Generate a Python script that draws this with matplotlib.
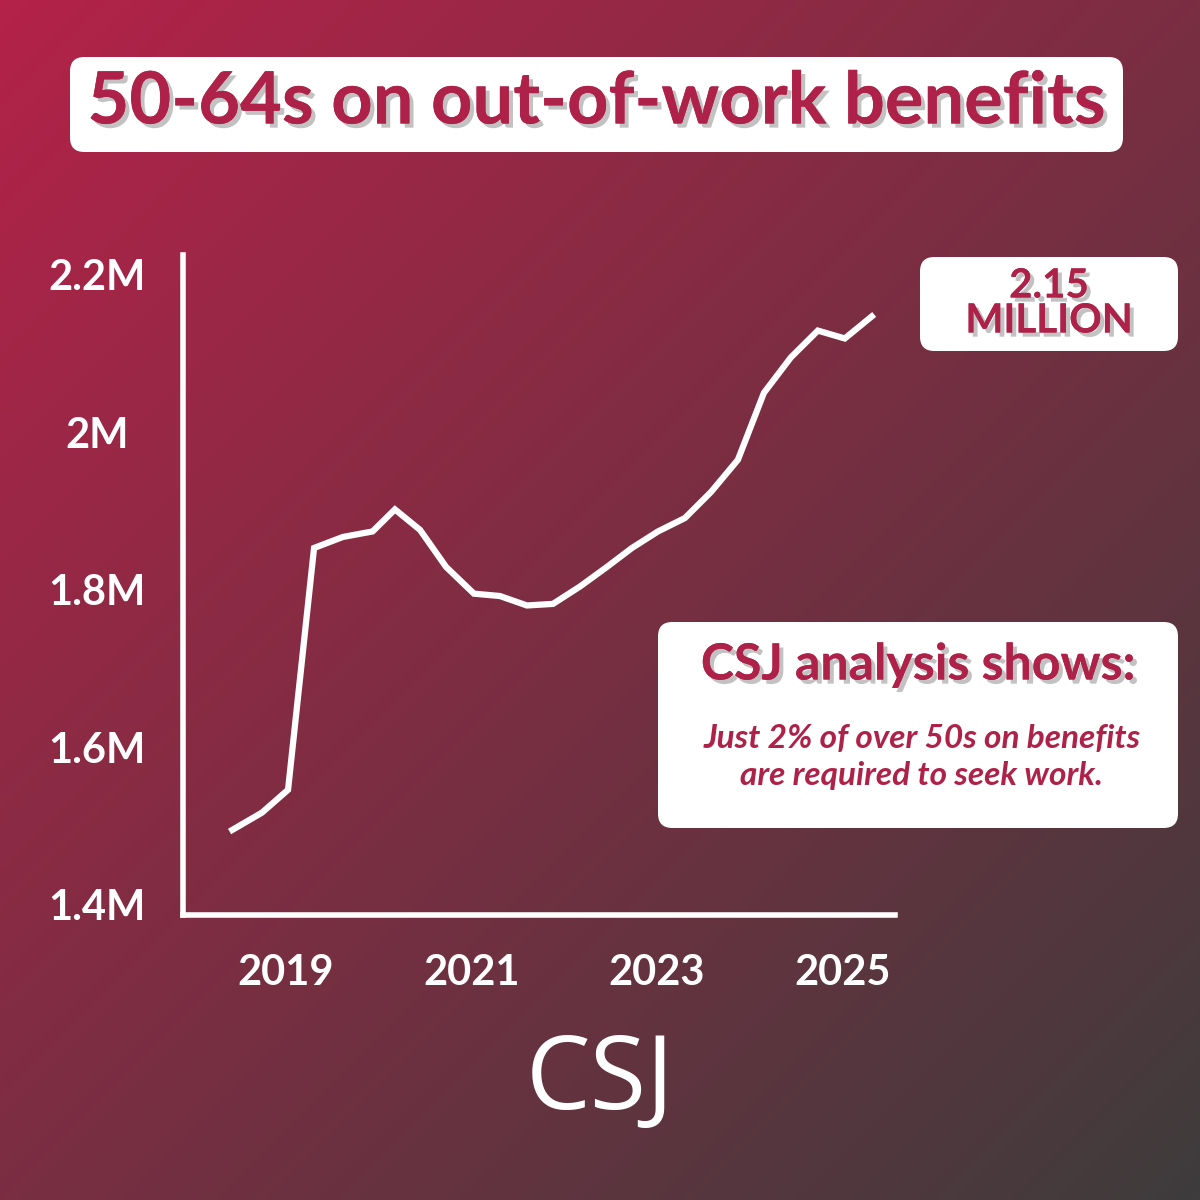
import matplotlib
matplotlib.use("Agg")
import matplotlib.pyplot as plt
import numpy as np
from matplotlib.patches import FancyBboxPatch
import matplotlib.patheffects as pe
from matplotlib.colors import LinearSegmentedColormap

years = [2018.43, 2018.75, 2019.03, 2019.31, 2019.62, 2019.94, 2020.18, 2020.45, 2020.73,
         2021.03, 2021.31, 2021.60, 2021.88, 2022.17, 2022.45, 2022.73, 2023.01, 2023.30,
         2023.58, 2023.87, 2024.15, 2024.44, 2024.73, 2025.02, 2025.31]
values = [1.495, 1.517, 1.546, 1.853, 1.867, 1.874, 1.902, 1.876, 1.829,
          1.795, 1.792, 1.780, 1.782, 1.804, 1.828, 1.853, 1.874, 1.891,
          1.924, 1.965, 2.050, 2.095, 2.129, 2.119, 2.147]
yticks = [1.4, 1.6, 1.8, 2.0, 2.2]
ytick_labels = ["1.4M", "1.6M", "1.8M", "2M", "2.2M"]
xticks = [2019, 2021, 2023, 2025]

FONT = "Lato"
RED = "#ae2249"
fig = plt.figure(figsize=(12, 12), dpi=100)

bg = fig.add_axes([0, 0, 1, 1])
n = 400
xx, yy = np.meshgrid(np.linspace(0, 1, n), np.linspace(0, 1, n))
t = (xx + yy) / 2
cmap = LinearSegmentedColormap.from_list("g", ["#b42249", "#7a2e42", "#3e3c3c"])
bg.imshow(t, cmap=cmap, extent=[0, 1, 0, 1], origin="upper", aspect="auto")
bg.set_xlim(0, 1); bg.set_ylim(0, 1); bg.axis("off")

def box(x0, y0, x1, y1):
    bg.add_patch(FancyBboxPatch((x0/1200, 1-y1/1200), (x1-x0)/1200, (y1-y0)/1200,
                                boxstyle="round,pad=0,rounding_size=0.012",
                                fc="white", ec="none", transform=bg.transAxes))

shadow = [pe.withSimplePatchShadow(offset=(3, -3), shadow_rgbFace="#9a9a9a", alpha=0.6), pe.Normal()]

box(70, 57, 1123, 152)
bg.text(596/1200, 1-103/1200, "50-64s on out-of-work benefits", ha="center", va="center",
        fontsize=52, fontweight="bold", color=RED, family=FONT, path_effects=shadow)

box(920, 257, 1178, 351)
bg.text(1049/1200, 1-286/1200, "2.15", ha="center", va="center", fontsize=29,
        fontweight="bold", color=RED, family=FONT, path_effects=shadow)
bg.text(1049/1200, 1-321/1200, "MILLION", ha="center", va="center", fontsize=29,
        fontweight="bold", color=RED, family=FONT, path_effects=shadow)

box(658, 622, 1178, 828)
bg.text(918/1200, 1-665/1200, "CSJ analysis shows:", ha="center", va="center", fontsize=36,
        fontweight="bold", color=RED, family=FONT, path_effects=shadow)
bg.text(922/1200, 1-738/1200, "Just 2% of over 50s on benefits", ha="center", va="center",
        fontsize=24, fontweight="bold", style="italic", color=RED, family=FONT)
bg.text(922/1200, 1-776/1200, "are required to seek work.", ha="center", va="center",
        fontsize=24, fontweight="bold", style="italic", color=RED, family=FONT)

bg.text(600/1200, 1-1083/1200, "CSJ", ha="center", va="center", fontsize=74,
        color="white", family="Open Sans")

ax = fig.add_axes([183/1200, 1-915/1200, (895-183)/1200, (915-255)/1200])
ax.patch.set_alpha(0)
ax.plot(years, values, color="white", lw=4.5, solid_joinstyle="miter")
ax.set_xlim(2017.90, 2025.56)
ax.set_ylim(1.387, 2.225)
for s in ["top", "right"]:
    ax.spines[s].set_visible(False)
for s in ["left", "bottom"]:
    ax.spines[s].set_color("white"); ax.spines[s].set_linewidth(4)
ax.set_yticks(yticks)
ax.set_yticklabels(ytick_labels)
ax.set_xticks(xticks)
ax.set_xticklabels([str(x) for x in xticks])
ax.tick_params(length=0, colors="white", labelsize=30, pad=28)
for lab in ax.get_xticklabels() + ax.get_yticklabels():
    lab.set_fontweight("bold"); lab.set_family(FONT)
for lab in ax.get_yticklabels():
    lab.set_ha("center")
ax.tick_params(axis="y", pad=62)

fig.savefig("out.png", dpi=100)
